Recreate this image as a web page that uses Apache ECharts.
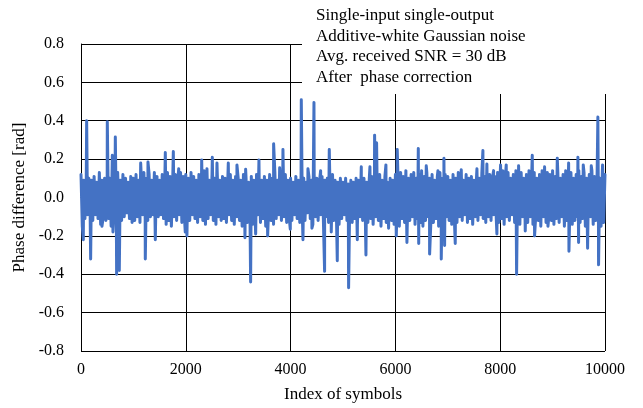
<!DOCTYPE html>
<html>
<head>
<meta charset="utf-8">
<script src="https://cdn.jsdelivr.net/npm/echarts@6/dist/echarts.min.js"></script>
<style>
  html, body { margin: 0; padding: 0; background: #fff; }
  #chart { width: 643px; height: 408px; }
</style>
</head>
<body>
<div id="chart"></div>
<script>
// band of the phase noise: upper values at index 0, 50, 100 ... 10000
const bandTop = [
  0.12,0.09,0.08,0.10,0.09,0.11,0.08,0.13,0.09,0.10,
  0.12,0.10,0.14,0.11,0.13,0.09,0.12,0.10,0.08,0.11,
  0.10,0.12,0.09,0.11,0.13,0.10,0.12,0.09,0.13,0.11,
  0.09,0.12,0.10,0.13,0.11,0.09,0.12,0.10,0.13,0.11,
  0.12,0.10,0.13,0.11,0.09,0.12,0.10,0.14,0.11,0.09,
  0.12,0.10,0.13,0.09,0.11,0.10,0.08,0.12,0.09,0.11,
  0.10,0.09,0.12,0.10,0.08,0.11,0.09,0.12,0.10,0.09,
  0.11,0.09,0.12,0.10,0.13,0.09,0.11,0.10,0.12,0.09,
  0.10,0.08,0.11,0.09,0.12,0.10,0.08,0.11,0.09,0.12,
  0.10,0.08,0.11,0.09,0.10,0.08,0.12,0.09,0.08,0.10,
  0.08,0.10,0.07,0.09,0.08,0.10,0.09,0.07,0.10,0.08,
  0.09,0.11,0.08,0.10,0.12,0.09,0.11,0.08,0.10,0.09,
  0.12,0.10,0.13,0.11,0.14,0.10,0.12,0.13,0.10,0.12,
  0.14,0.11,0.13,0.10,0.12,0.09,0.11,0.13,0.10,0.12,
  0.11,0.09,0.12,0.10,0.13,0.11,0.09,0.12,0.10,0.11,
  0.09,0.12,0.10,0.13,0.11,0.09,0.12,0.10,0.11,0.13,
  0.12,0.14,0.11,0.13,0.10,0.12,0.14,0.11,0.13,0.10,
  0.12,0.14,0.11,0.13,0.10,0.12,0.14,0.11,0.13,0.12,
  0.14,0.11,0.13,0.10,0.12,0.14,0.11,0.13,0.10,0.12,
  0.14,0.11,0.13,0.10,0.12,0.14,0.11,0.13,0.10,0.14,
  0.12
];
// lower values at index 25, 75, 125 ... 9975
const bandBottom = [
  -0.15,-0.11,-0.09,-0.10,-0.12,-0.09,-0.11,-0.14,-0.10,-0.12,
  -0.11,-0.15,-0.10,-0.13,-0.09,-0.12,-0.10,-0.08,-0.11,-0.13,
  -0.12,-0.10,-0.13,-0.09,-0.11,-0.12,-0.10,-0.09,-0.11,-0.10,
  -0.09,-0.11,-0.14,-0.12,-0.15,-0.10,-0.12,-0.09,-0.13,-0.11,
  -0.14,-0.12,-0.09,-0.11,-0.13,-0.10,-0.12,-0.14,-0.11,-0.09,
  -0.12,-0.14,-0.10,-0.12,-0.11,-0.13,-0.09,-0.12,-0.14,-0.10,
  -0.12,-0.15,-0.11,-0.13,-0.10,-0.14,-0.12,-0.09,-0.13,-0.11,
  -0.15,-0.10,-0.12,-0.14,-0.11,-0.09,-0.12,-0.10,-0.13,-0.11,
  -0.12,-0.09,-0.11,-0.13,-0.10,-0.12,-0.08,-0.11,-0.14,-0.10,
  -0.12,-0.09,-0.11,-0.10,-0.13,-0.09,-0.12,-0.10,-0.14,-0.11,
  -0.09,-0.12,-0.10,-0.13,-0.11,-0.14,-0.10,-0.12,-0.09,-0.13,
  -0.11,-0.14,-0.10,-0.12,-0.15,-0.11,-0.13,-0.10,-0.12,-0.14,
  -0.12,-0.15,-0.11,-0.13,-0.16,-0.12,-0.10,-0.14,-0.11,-0.13,
  -0.15,-0.12,-0.10,-0.14,-0.13,-0.11,-0.15,-0.12,-0.14,-0.10,
  -0.12,-0.14,-0.11,-0.13,-0.10,-0.12,-0.09,-0.13,-0.11,-0.14,
  -0.10,-0.12,-0.09,-0.11,-0.13,-0.10,-0.12,-0.09,-0.11,-0.13,
  -0.11,-0.14,-0.10,-0.12,-0.09,-0.13,-0.11,-0.14,-0.10,-0.12,
  -0.13,-0.10,-0.14,-0.11,-0.12,-0.15,-0.10,-0.13,-0.11,-0.12,
  -0.14,-0.11,-0.13,-0.10,-0.15,-0.12,-0.11,-0.14,-0.12,-0.10,
  -0.13,-0.11,-0.15,-0.12,-0.10,-0.14,-0.12,-0.11,-0.15,-0.13
];
// outliers
const spikeIndex = [
  44,108,184,369,400,502,598,610,655,680,731,1139,1227,1278,1418,1609,1762,1865,1990,
  2022,2303,2404,2506,2595,2811,2976,3129,3142,3237,3333,3396,3562,3676,3791,3854,3994,
  4204,4236,4331,4407,4446,4573,4649,4738,4776,4891,5107,5273,5349,5438,5514,5603,5641,5819,5870,
  6017,6035,6220,6437,6445,6589,6653,6812,6875,6926,6939,7142,7257,7479,7556,7670,7746,7874,7937,
  8007,8115,8313,8351,8478,8612,8656,8847,8911,9089,9306,9312,9483,9496,9585,9668,9738,9864,9877,9954
];
const spikeValue = [
  -0.22,0.40,-0.32,0.135,-0.15,0.395,0.22,-0.18,0.315,-0.40,-0.38,0.18,-0.32,0.185,-0.22,0.235,0.24,0.15,-0.18,
  -0.20,0.196,0.15,0.21,0.18,0.18,0.17,-0.21,0.147,-0.44,-0.19,0.195,-0.20,0.28,0.155,0.25,-0.165,
  0.51,-0.22,0.15,-0.16,0.495,0.14,-0.385,0.25,-0.18,-0.33,-0.47,-0.22,0.16,-0.30,0.16,0.325,0.285,0.17,-0.16,
  -0.20,0.25,-0.235,0.255,-0.24,0.165,-0.295,0.14,-0.32,0.205,-0.25,-0.24,0.145,-0.15,0.15,0.245,0.175,0.14,-0.19,
  0.17,0.17,-0.40,0.165,-0.175,0.22,-0.20,0.16,-0.15,0.205,0.18,-0.28,0.21,-0.235,0.17,-0.265,0.165,0.42,-0.35,0.17
];
const xTicks = [0, 2000, 4000, 6000, 8000, 10000];
const notes = [
  'Single-input single-output',
  'Additive-white Gaussian noise',
  'Avg. received SNR = 30 dB',
  'After  phase correction'
];

// merge band and outliers into one trace ordered by symbol index
const points = [];
bandTop.forEach((v, i) => points.push([i * 50, v]));
bandBottom.forEach((v, i) => points.push([i * 50 + 25, v]));
spikeIndex.forEach((x, i) => points.push([x, spikeValue[i]]));
points.sort((a, b) => a[0] - b[0]);

const font = 'Liberation Serif, Times New Roman, serif';
const chart = echarts.init(document.getElementById('chart'));

chart.setOption({
  animation: false,
  grid: { left: 81, right: 38, top: 44, bottom: 56 },
  xAxis: {
    type: 'value',
    min: xTicks[0],
    max: xTicks[xTicks.length - 1],
    interval: 2000,
    name: 'Index of symbols',
    nameLocation: 'middle',
    nameGap: 35,
    nameTextStyle: { fontFamily: font, fontSize: 17, color: '#000' },
    axisLine: { lineStyle: { color: '#000', width: 1 } },
    axisTick: { show: false },
    axisLabel: { fontFamily: font, fontSize: 16, color: '#000', margin: 11, formatter: v => String(v) },
    splitLine: { lineStyle: { color: '#000', width: 1 } }
  },
  yAxis: {
    type: 'value',
    min: -0.8,
    max: 0.8,
    interval: 0.2,
    name: 'Phase difference [rad]',
    nameLocation: 'middle',
    nameGap: 44,
    nameTextStyle: { fontFamily: font, fontSize: 17, color: '#000' },
    axisLine: { show: true, lineStyle: { color: '#000', width: 1 } },
    axisTick: { show: false },
    axisLabel: {
      fontFamily: font, fontSize: 16, color: '#000', margin: 17,
      formatter: v => Math.abs(v) < 1e-9 ? '0.0' : v.toFixed(1)
    },
    splitLine: { lineStyle: { color: '#000', width: 1 } }
  },
  graphic: [
    {
      type: 'rect', z: 100,
      shape: { x: 302, y: 0, width: 341, height: 94 },
      style: { fill: '#fff' }
    },
    ...notes.map((t, i) => ({
      type: 'text', z: 101,
      x: 316, y: 16 + i * 20.5,
      style: { text: t, font: '17px ' + font, fill: '#000', textVerticalAlign: 'middle' }
    }))
  ],
  series: [{
    type: 'line',
    data: points,
    showSymbol: false,
    sampling: null,
    lineStyle: { color: '#4472C4', width: 3, cap: 'round', join: 'round' }
  }]
});
</script>
</body>
</html>
